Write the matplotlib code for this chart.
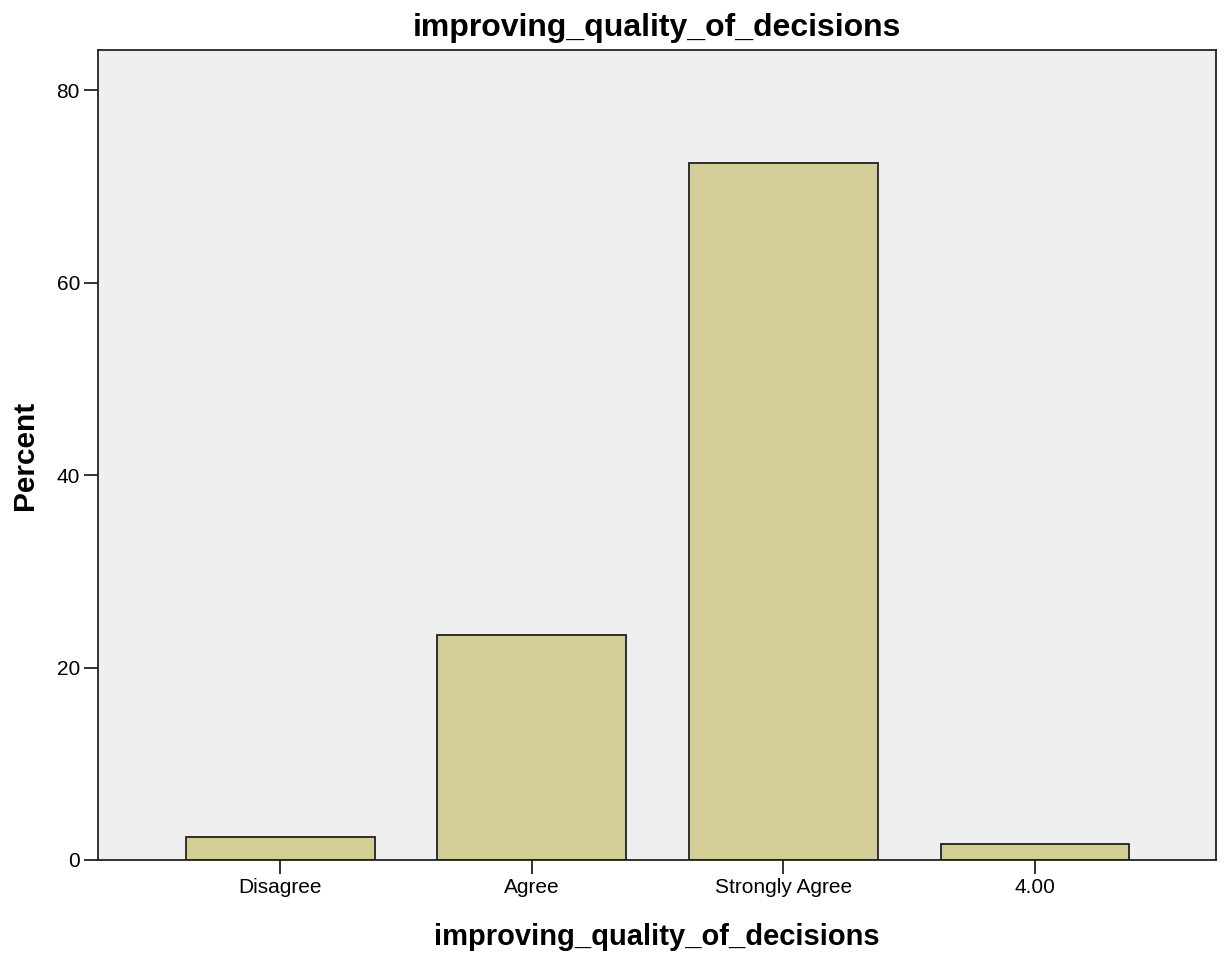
import matplotlib
matplotlib.use("Agg")
import matplotlib.pyplot as plt

categories = ["Disagree", "Agree", "Strongly Agree", "4.00"]
percent = [2.42, 23.4, 72.5, 1.66]

plt.rcParams['font.family'] = ['Liberation Sans', 'DejaVu Sans']

fig = plt.figure(figsize=(12.24, 9.55), dpi=100)
ax = fig.add_axes([0.0801, 0.0995, 0.9134, 0.8481])
ax.set_facecolor("#efefef")

x = list(range(len(categories)))
ax.bar(x, percent, width=0.75, color="#d3cd96", edgecolor="#222222", linewidth=1.3)

ax.set_xlim(-0.724, 3.72)
ax.set_ylim(0, 84.2)
ax.set_yticks([0, 20, 40, 60, 80])
ax.set_xticks(x)
ax.set_xticklabels(categories)
ax.tick_params(axis="both", direction="out", length=10, width=1.3, color="#222222",
               labelsize=15, pad=3)

for sp in ax.spines.values():
    sp.set_color("#222222")
    sp.set_linewidth(1.3)

ax.set_title("improving_quality_of_decisions", fontsize=23, fontweight="bold", pad=10)
ax.set_xlabel("improving_quality_of_decisions", fontsize=21, fontweight="bold", labelpad=19)
ax.set_ylabel("Percent", fontsize=21.5, fontweight="bold", labelpad=13)

fig.savefig("out.png", dpi=100)
